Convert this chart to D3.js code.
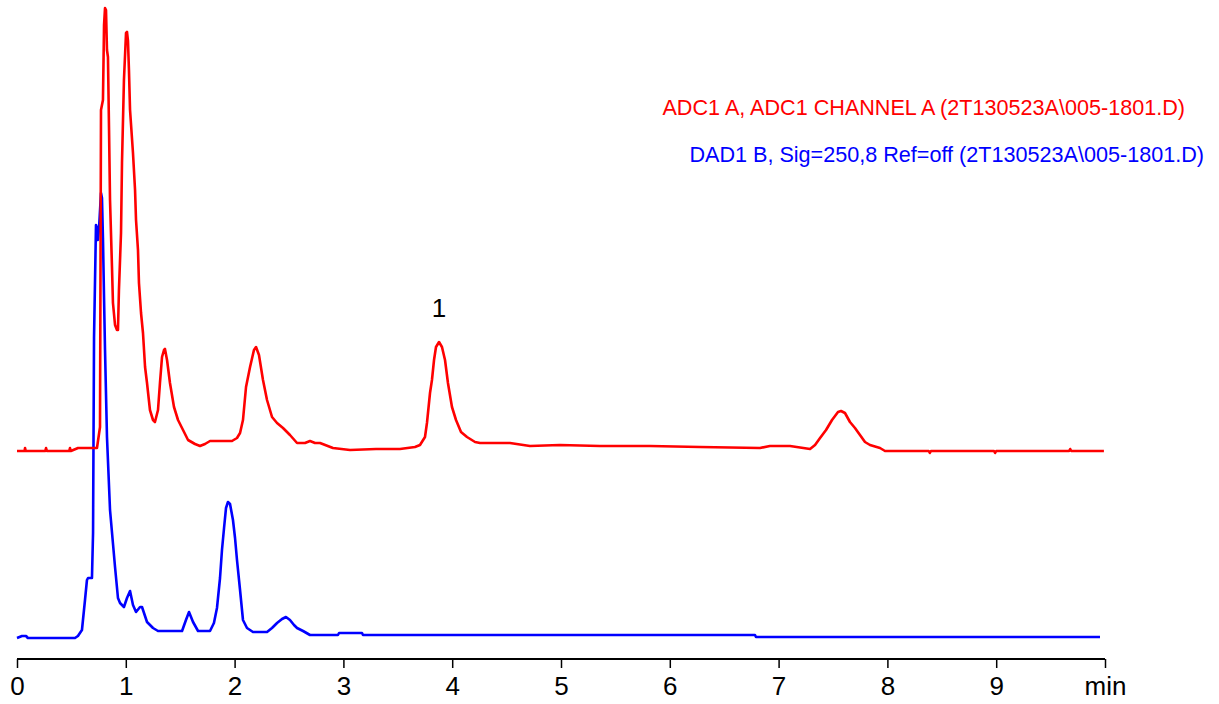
<!DOCTYPE html>
<html>
<head>
<meta charset="utf-8">
<script src="https://cdn.jsdelivr.net/npm/d3@7"></script>
<style>
  body { margin: 0; background: #fff; }
  svg { display: block; font-family: "Liberation Sans", Arial, sans-serif; }
</style>
</head>
<body>
<div id="wrapper"></div>
<script>
// retention time (min) and response for the ADC1 A trace
const adcTime = [0, 0.07, 0.074, 0.08, 0.26, 0.267, 0.275, 0.48, 0.487, 0.495, 0.561, 0.717, 0.735, 0.763, 0.772, 0.79, 0.80, 0.809, 0.818, 0.827, 0.836, 0.846, 0.855, 0.873, 0.882, 0.901, 0.919, 0.928, 0.937, 0.956, 0.965, 0.983, 1.002, 1.011, 1.02, 1.029, 1.039, 1.066, 1.085, 1.094, 1.112, 1.121, 1.140, 1.158, 1.177, 1.195, 1.222, 1.25, 1.268, 1.296, 1.314, 1.333, 1.351, 1.36, 1.379, 1.406, 1.443, 1.48, 1.526, 1.572, 1.636, 1.682, 1.728, 1.774, 1.801, 1.976, 2.022, 2.05, 2.077, 2.105, 2.142, 2.178, 2.197, 2.224, 2.261, 2.298, 2.344, 2.39, 2.445, 2.509, 2.574, 2.647, 2.693, 2.739, 2.785, 2.904, 3.061, 3.3, 3.52, 3.658, 3.704, 3.75, 3.768, 3.796, 3.814, 3.833, 3.851, 3.879, 3.906, 3.934, 3.961, 3.998, 4.035, 4.081, 4.136, 4.21, 4.256, 4.531, 4.715, 4.99, 5.358, 5.818, 6.278, 6.829, 6.92, 7.105, 7.289, 7.335, 7.381, 7.436, 7.491, 7.546, 7.574, 7.61, 7.656, 7.702, 7.748, 7.794, 7.84, 7.932, 7.978, 8.38, 8.39, 8.40, 8.98, 8.99, 9.0, 9.67, 9.68, 9.69, 9.99]
const adcValue = [0, 0, 3, 0, 0, 3, 0, 0, 3, 0, 3, 3, 3, 24, 341, 351, 426, 443, 441, 401, 394, 321, 251, 184, 148, 126, 121, 121, 161, 218, 288, 371, 418, 419, 410, 381, 341, 298, 261, 231, 201, 168, 138, 118, 84, 68, 41, 31, 29, 41, 68, 94, 101, 102, 91, 68, 44, 31, 21, 11, 7, 5, 7, 10, 10, 10, 13, 18, 31, 64, 84, 101, 104, 96, 71, 51, 34, 28, 23, 16, 8, 8, 10, 8, 8, 3, 1, 2, 2, 4, 6, 14, 28, 58, 71, 91, 104, 109, 104, 91, 68, 44, 31, 19, 14, 9, 8, 8, 5, 6, 5, 5, 4, 3, 5, 5, 2, 6, 13, 21, 31, 39, 40, 38, 29, 23, 16, 9, 6, 3, 0, 0, -2, 0, 0, -2, 0, 0, 2, 0, 0]

// retention time (min) and response for the DAD1 B trace
const dadTime = [0, 0.046, 0.083, 0.1, 0.533, 0.56, 0.597, 0.625, 0.643, 0.653, 0.689, 0.699, 0.708, 0.726, 0.735, 0.744, 0.754, 0.772, 0.781, 0.79, 0.80, 0.809, 0.827, 0.855, 0.901, 0.928, 0.947, 0.983, 1.011, 1.039, 1.066, 1.094, 1.131, 1.149, 1.195, 1.25, 1.296, 1.333, 1.517, 1.553, 1.581, 1.618, 1.664, 1.774, 1.81, 1.838, 1.866, 1.884, 1.903, 1.921, 1.939, 1.958, 1.985, 2.004, 2.022, 2.05, 2.077, 2.114, 2.169, 2.298, 2.344, 2.39, 2.436, 2.472, 2.509, 2.546, 2.574, 2.629, 2.693, 2.95, 2.96, 3.171, 3.18, 6.783, 6.792, 9.954]
const dadValue = [0, 2, 2, 0, 0, 2, 8, 38, 58, 60, 60, 105, 300, 413, 410, 398, 410, 445, 440, 400, 340, 288, 201, 128, 71, 40, 35, 31, 40, 47, 33, 26, 31, 31, 16, 10, 7, 7, 7, 18, 26, 16, 7, 7, 15, 30, 60, 88, 110, 130, 136, 134, 118, 100, 78, 48, 18, 10, 6, 6, 10, 15, 19, 21, 18, 13, 10, 7, 3, 3, 5, 5, 3, 3, 1, 1]

const xTicks = [0, 1, 2, 3, 4, 5, 6, 7, 8, 9, 10]
const peakLabels = [{ time: 3.879, label: "1" }]
const adcName = "ADC1 A, ADC1 CHANNEL A (2T130523A\\005-1801.D)"
const dadName = "DAD1 B, Sig=250,8 Ref=off (2T130523A\\005-1801.D)"

const width = 1219
const height = 704

const svg = d3.select("#wrapper")
  .append("svg")
    .attr("width", width)
    .attr("height", height)

const xScale = d3.scaleLinear()
  .domain([0, 10])
  .range([17, 1105])

// one response scale, the ADC trace is drawn with an offset above the DAD trace
const yScale = d3.scaleLinear()
  .domain([0, 630])
  .range([638, 8])
const adcOffset = 187

const adcData = adcTime.map((t, i) => ({ t, v: adcValue[i] + adcOffset }))
const dadData = dadTime.map((t, i) => ({ t, v: dadValue[i] }))

const lineGen = d3.line()
  .x(d => xScale(d.t))
  .y(d => yScale(d.v))

svg.append("path")
    .datum(dadData)
    .attr("d", lineGen)
    .attr("fill", "none")
    .attr("stroke", "#0000ff")
    .attr("stroke-width", 2.6)
    .attr("stroke-linejoin", "round")

svg.append("path")
    .datum(adcData)
    .attr("d", lineGen)
    .attr("fill", "none")
    .attr("stroke", "#ff0000")
    .attr("stroke-width", 2.6)
    .attr("stroke-linejoin", "round")

// peak label
svg.selectAll(".peak-label")
  .data(peakLabels)
  .enter().append("text")
    .attr("class", "peak-label")
    .attr("x", d => xScale(d.time))
    .attr("y", 317)
    .attr("text-anchor", "middle")
    .attr("font-size", 26)
    .attr("fill", "#000")
    .text(d => d.label)

// x axis
const xAxisGenerator = d3.axisBottom(xScale)
  .tickValues(xTicks)
  .tickSize(9)
  .tickPadding(9)
  .tickFormat(d => d === 10 ? "min" : d)

const xAxis = svg.append("g")
    .attr("transform", "translate(0, 659)")
    .call(xAxisGenerator)

xAxis.select(".domain")
    .attr("d", `M${xScale(0)},0H${xScale(10)}`)
    .attr("stroke-width", 2)
xAxis.selectAll(".tick line").attr("stroke-width", 1.5)
xAxis.selectAll(".tick text")
    .attr("font-size", 26)
    .attr("font-family", "'Liberation Sans', Arial, sans-serif")
    .attr("fill", "#000")

// signal names
svg.append("text")
    .attr("x", 1185)
    .attr("y", 115)
    .attr("text-anchor", "end")
    .attr("font-size", 21.6)
    .attr("fill", "#ff0000")
    .text(adcName)

svg.append("text")
    .attr("x", 1204)
    .attr("y", 162)
    .attr("text-anchor", "end")
    .attr("font-size", 21.6)
    .attr("fill", "#0000ff")
    .text(dadName)
</script>
</body>
</html>
